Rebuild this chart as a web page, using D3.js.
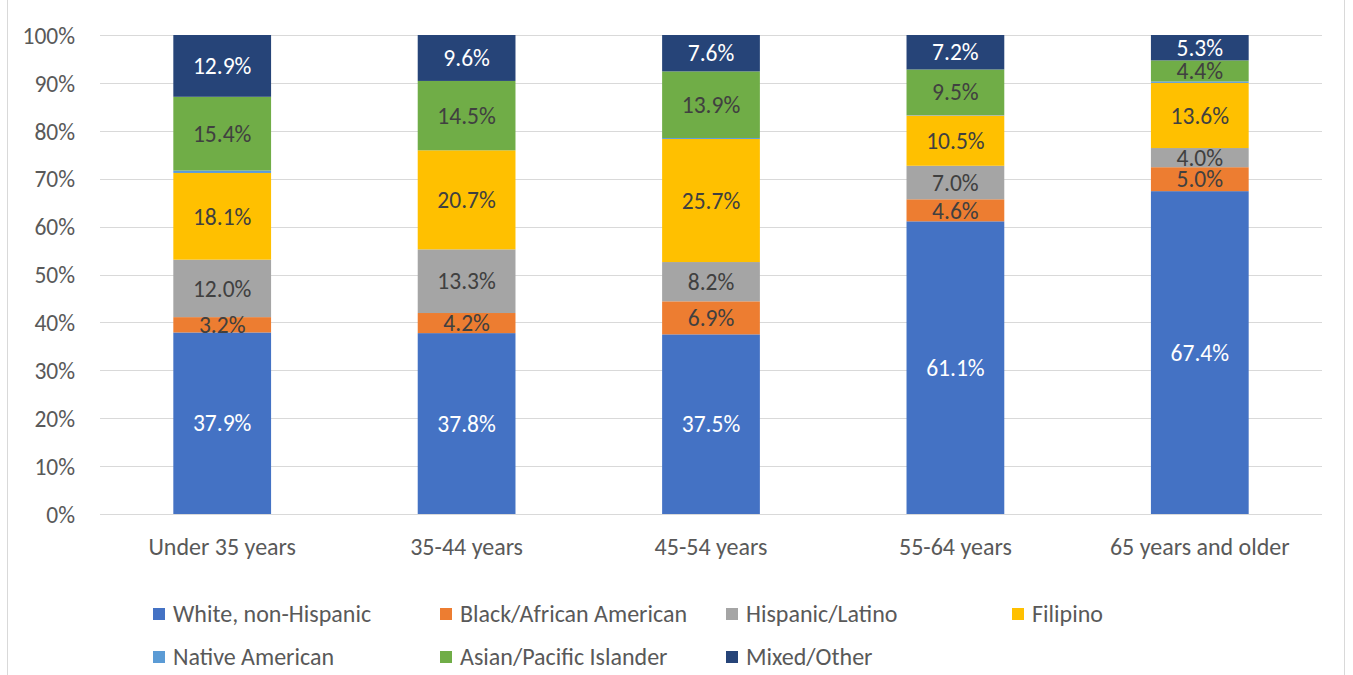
<!DOCTYPE html>
<html>
<head>
<meta charset="utf-8">
<script src="https://cdn.jsdelivr.net/npm/d3@7"></script>
<style>
  body { margin: 0; background: #fff; }
  text { font-family: Carlito, "Liberation Sans", "Open Sans", sans-serif; }
</style>
</head>
<body>
<svg id="chart" width="1353" height="675"></svg>
<script>
// age groups
var categories = ["Under 35 years", "35-44 years", "45-54 years", "55-64 years", "65 years and older"];
var seriesNames = ["White, non-Hispanic", "Black/African American", "Hispanic/Latino", "Filipino",
                   "Native American", "Asian/Pacific Islander", "Mixed/Other"];
var seriesColors = ["#4472C4", "#ED7D31", "#A5A5A5", "#FFC000", "#5B9BD5", "#70AD47", "#264478"];
var labelColors = ["#ffffff", "#404040", "#404040", "#404040", "#404040", "#404040", "#ffffff"];

// percent values per series, one per age group
var white    = [37.9, 37.8, 37.5, 61.1, 67.4];
var black    = [3.2, 4.2, 6.9, 4.6, 5.0];
var hispanic = [12.0, 13.3, 8.2, 7.0, 4.0];
var filipino = [18.1, 20.7, 25.7, 10.5, 13.6];
var native   = [0.5, 0.0, 0.2, 0.1, 0.3];
var asian    = [15.4, 14.5, 13.9, 9.5, 4.4];
var mixed    = [12.9, 9.6, 7.6, 7.2, 5.3];
var yTicks = [0, 0.1, 0.2, 0.3, 0.4, 0.5, 0.6, 0.7, 0.8, 0.9, 1];

var seriesValues = [white, black, hispanic, filipino, native, asian, mixed];

var data = categories.map(function (c, i) {
    var row = { cat: c };
    seriesNames.forEach(function (s, j) { row[s] = seriesValues[j][i]; });
    return row;
});

var svg = d3.select("#chart");
var margin = { top: 35, right: 31, bottom: 161, left: 100 };
var width = 1353, height = 675;
var fs = 23.5, fsBig = 24;

var x = d3.scaleBand()
    .domain(categories)
    .range([margin.left, width - margin.right])
    .paddingInner(0.6)
    .paddingOuter(0.3);

var y = d3.scaleLinear()
    .domain([0, 1])
    .range([height - margin.bottom, margin.top]);

var stack = d3.stack().keys(seriesNames).offset(d3.stackOffsetExpand);
var stacked = stack(data);

// outer frame
svg.append("rect")
    .attr("x", 7.5).attr("y", -2)
    .attr("width", 1337).attr("height", 690)
    .attr("fill", "none").attr("stroke", "#D9D9D9");

// gridlines
svg.append("g")
    .selectAll("line")
    .data(yTicks)
    .join("line")
    .attr("x1", margin.left).attr("x2", width - margin.right)
    .attr("y1", d => Math.round(y(d)) + 0.5).attr("y2", d => Math.round(y(d)) + 0.5)
    .attr("stroke", "#D9D9D9");

// y axis
var yAxis = g => g
    .attr("transform", `translate(${margin.left - 22},0)`)
    .call(d3.axisLeft(y).tickValues(yTicks).tickFormat(d3.format(".0%")).tickSize(0))
    .call(g => g.select(".domain").remove())
    .call(g => g.selectAll("text").attr("fill", "#595959").attr("font-size", fs).attr("dy", "0.35em"));
svg.append("g").call(yAxis);

// x axis
var xAxis = g => g
    .attr("transform", `translate(0,${height - margin.bottom + 20})`)
    .call(d3.axisBottom(x).tickSize(0))
    .call(g => g.select(".domain").remove())
    .call(g => g.selectAll("text").attr("fill", "#595959").attr("font-size", fsBig).attr("dy", "0.75em"));
svg.append("g").call(xAxis);

// bars
var layers = svg.append("g")
    .selectAll("g")
    .data(stacked)
    .join("g")
    .attr("fill", (d, i) => seriesColors[i]);

layers.selectAll("rect")
    .data(d => d)
    .join("rect")
    .attr("x", d => x(d.data.cat))
    .attr("y", d => y(d[1]))
    .attr("width", x.bandwidth())
    .attr("height", d => y(d[0]) - y(d[1]));

// value labels
svg.append("g")
    .selectAll("g")
    .data(stacked)
    .join("g")
    .attr("fill", (d, i) => labelColors[i])
    .selectAll("text")
    .data(d => d.filter(p => p.data[d.key] >= 1).map(p => ({ p: p, v: p.data[d.key] })))
    .join("text")
    .attr("x", d => x(d.p.data.cat) + x.bandwidth() / 2)
    .attr("y", d => (y(d.p[0]) + y(d.p[1])) / 2)
    .attr("dy", "0.35em")
    .attr("text-anchor", "middle")
    .attr("font-size", fs)
    .text(d => d.v.toFixed(1) + "%");

// legend
var legendX = [153, 440, 726, 1012];
var legendY = [614, 657];
var legend = svg.append("g")
    .selectAll("g")
    .data(seriesNames)
    .join("g")
    .attr("transform", (d, i) => `translate(${legendX[i % 4]},${legendY[Math.floor(i / 4)]})`);
legend.append("rect")
    .attr("x", 0).attr("y", -6)
    .attr("width", 12).attr("height", 12)
    .attr("fill", (d, i) => seriesColors[i]);
legend.append("text")
    .attr("x", 20).attr("dy", "0.35em")
    .attr("fill", "#595959").attr("font-size", fsBig)
    .text(d => d);
</script>
</body>
</html>
